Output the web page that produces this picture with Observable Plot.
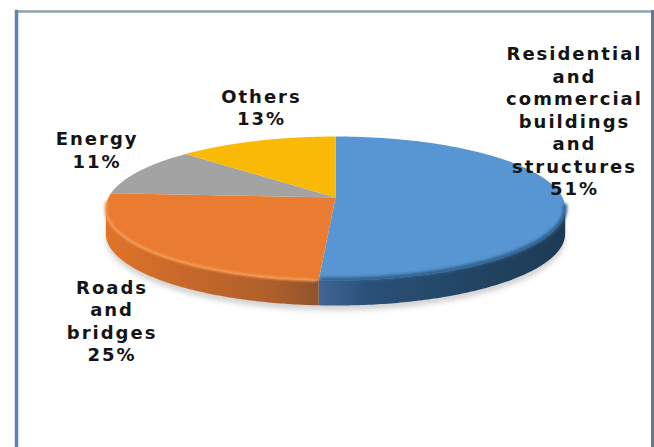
<!DOCTYPE html>
<html>
<head>
<meta charset="utf-8">
<style>
  html, body { margin: 0; padding: 0; background: #fff; }
  svg { display: block; }
</style>
<script src="https://cdn.jsdelivr.net/npm/d3@7"></script>
<script src="https://cdn.jsdelivr.net/npm/@observablehq/plot@0.6"></script>
</head>
<body>
<div id="chart"></div>
<script>
// Shares of the construction market, clockwise from twelve o'clock.
const categories = ["Residential\nand\ncommercial\nbuildings\nand\nstructures", "Roads\nand\nbridges", "Energy", "Others"];
const shares = [51, 25, 11, 13];
const sliceColors = ["#5796d3", "#ea7c31", "#a3a3a3", "#fbb907"];
// Label offset from the middle of each slice's outer edge, in pixels.
const labelDx = [11, -34, -42, 5];
const labelDy = [-79, 71, -22, -34];

const width = 654, height = 447;
const margin = {top: 11, right: 2, bottom: 0, left: 16};

// The disc lies on a tilted plane, so nearer parts draw larger.
const tilt = 0.153;
const thickness = 0.356;
const onDisc = (turn, drop = 0) => {
  const a = turn * 2 * Math.PI;
  const u = Math.sin(a), v = -Math.cos(a), w = 1 - tilt * v;
  return {x: u / w, y: v / w + drop};
};
const arc = (from, to, drop = 0) =>
  d3.range(0, 121).map((i) => onDisc(from + (to - from) * i / 120, drop));

// Cumulative slice boundaries, as fractions of a full turn.
const total = d3.sum(shares);
const bounds = d3.cumsum([0, ...shares]).map((d) => d / total);

// Turn positions of the disc's widest points, where the side wall starts and ends.
const wallStart = 0.2745, wallEnd = 0.7255;
const wallPolygon = (from, to) => [...arc(from, to), ...arc(to, from, thickness)];

const defs = () => {
  const ns = "http://www.w3.org/2000/svg";
  const root = document.createElementNS(ns, "defs");
  const gradient = (id, stops) => {
    const g = document.createElementNS(ns, "linearGradient");
    g.setAttribute("id", id);
    stops.forEach(([offset, color]) => {
      const s = document.createElementNS(ns, "stop");
      s.setAttribute("offset", offset);
      s.setAttribute("stop-color", color);
      g.appendChild(s);
    });
    root.appendChild(g);
  };
  gradient("wallBlue", [[0, "#3f6696"], [0.2, "#2b5078"], [0.55, "#234766"], [1, "#1c3a55"]]);
  gradient("wallOrange", [[0, "#e07428"], [0.3, "#cb6a2a"], [0.8, "#ad5e2b"], [1, "#8f522c"]]);
  return root;
};

const plot = Plot.plot({
  width, height,
  marginTop: margin.top, marginRight: margin.right,
  marginBottom: margin.bottom, marginLeft: margin.left,
  x: {domain: [(margin.left - 335) / 227, (width - margin.right - 335) / 227], axis: null},
  y: {domain: [(height - 197) / 70.3, (margin.top - 197) / 70.3], axis: null},
  style: {background: "#fff", letterSpacing: "2px"},
  marks: [
    defs,
    // Soft shadow beneath the disc
    Plot.line(wallPolygon(0.2, 0.8), {
      x: "x", y: "y", dy: 5, stroke: "none", fill: "#d4d4d4", imageFilter: "blur(2.5px)"
    }),
    // Side wall
    Plot.line(wallPolygon(bounds[1], wallStart), {
      x: "x", y: "y", stroke: "none", fill: "url(#wallBlue)"
    }),
    Plot.line(wallPolygon(wallEnd, bounds[1]), {
      x: "x", y: "y", stroke: "none", fill: "url(#wallOrange)"
    }),
    // Top face, one polygon per slice
    ...shares.map((_, i) => Plot.line([{x: 0, y: 0}, ...arc(bounds[i], bounds[i + 1]), {x: 0, y: 0}], {
      x: "x", y: "y", stroke: "none", fill: sliceColors[i]
    })),
    // Bevel along the front rim
    Plot.line(arc(bounds[1] - 0.002, 0.27), {
      x: "x", y: "y", dy: -1, stroke: "#2f5c88", strokeWidth: 4, imageFilter: "blur(1.5px)"
    }),
    Plot.line(arc(0.74, bounds[1] + 0.002), {
      x: "x", y: "y", stroke: "#f79c58", strokeWidth: 2.5, imageFilter: "blur(1.2px)"
    }),
    // Labels
    ...shares.map((share, i) => {
      const mid = onDisc((bounds[i] + bounds[i + 1]) / 2);
      return Plot.text([{...mid, label: `${categories[i]}\n${share}%`}], {
        x: "x", y: "y", text: "label",
        dx: labelDx[i], dy: labelDy[i],
        fontFamily: "DejaVu Sans", fontWeight: "bold", fontSize: 18,
        lineHeight: 1.25, fill: "#141414"
      });
    }),
    // Chart border: three sides only
    Plot.frame({anchor: "top", stroke: "#8ea3b2", strokeWidth: 2.5}),
    Plot.frame({anchor: "left", stroke: "#5f80b8", strokeWidth: 3.5}),
    Plot.frame({anchor: "right", stroke: "#66798a", strokeWidth: 3})
  ]
});
document.getElementById("chart").appendChild(plot);
</script>
</body>
</html>
